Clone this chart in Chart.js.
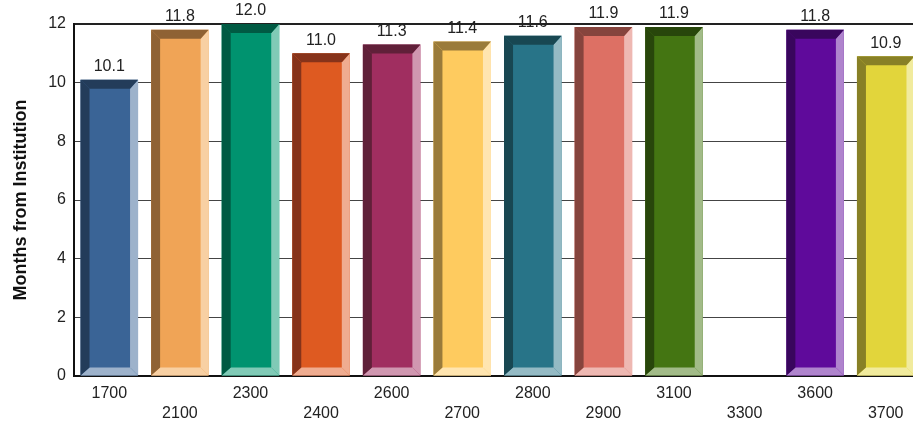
<!DOCTYPE html>
<html>
<head>
<meta charset="utf-8">
<script src="https://cdn.jsdelivr.net/npm/chart.js@4"></script>
<style>
  html, body { margin: 0; padding: 0; background: #fff; }
  #wrap { width: 913px; height: 423px; overflow: hidden; position: relative; }
  canvas { display: block; }
</style>
</head>
<body>
<div id="wrap"><canvas id="c" width="921" height="423"></canvas></div>
<script>
// data
const categories = ['1700', '2100', '2300', '2400', '2600', '2700', '2800', '2900', '3100', '3300', '3600', '3700'];
const months = [10.1, 11.8, 12.0, 11.0, 11.3, 11.4, 11.6, 11.9, 11.9, null, 11.8, 10.9];
const yTicks = [0, 2, 4, 6, 8, 10, 12];

// bar colours: face, dark bevel (top/left), light bevel (right/bottom)
const faceColors  = ['#3a6496', '#f0a456', '#00936f', '#de5a21', '#a02e60', '#fecb5f', '#287488', '#dd7064', '#447512', '#999999', '#5f0a9b', '#e2d53b'];
const darkColors  = ['#233c5a', '#8f6234', '#005a43', '#86331a', '#602039', '#9a7b3a', '#184752', '#86443d', '#28460b', '#555555', '#39065d', '#888026'];
const lightColors = ['#9db2cb', '#f8d0a3', '#80cab6', '#efac90', '#d097b0', '#ffe5b0', '#94bac4', '#eeb8b2', '#a2bb88', '#cccccc', '#af84cd', '#f1eb9d'];

const FONT = '"Liberation Sans", Arial, sans-serif';

// alternate the x labels on two rows
const xLabels = categories.map((c, i) => i % 2 === 0 ? [c, ''] : ['', c]);

const bevelPlugin = {
  id: 'bevel',
  afterDatasetsDraw(chart) {
    const ctx = chart.ctx;
    const meta = chart.getDatasetMeta(0);
    meta.data.forEach((bar, i) => {
      if (months[i] == null) return;
      const p = bar.getProps(['x', 'y', 'base', 'width'], true);
      const L = p.x - p.width / 2, R = p.x + p.width / 2;
      const T = p.y, B = p.base;
      const d = 9, l = 8;
      const poly = (pts, col) => {
        ctx.beginPath();
        ctx.moveTo(pts[0][0], pts[0][1]);
        for (let k = 1; k < pts.length; k++) ctx.lineTo(pts[k][0], pts[k][1]);
        ctx.closePath();
        ctx.fillStyle = col;
        ctx.fill();
      };
      ctx.save();
      poly([[R, T], [R, B], [R - l, B - l], [R - l, T + d]], lightColors[i]);
      poly([[L, B], [R, B], [R - l, B - l], [L + d, B - l]], lightColors[i]);
      poly([[L, T], [R, T], [R - l, T + d], [L + d, T + d]], darkColors[i]);
      poly([[L, T], [L + d, T + d], [L + d, B - l], [L, B]], darkColors[i]);
      // value label
      ctx.fillStyle = '#222';
      ctx.font = '16px ' + FONT;
      ctx.textAlign = 'center';
      ctx.textBaseline = 'bottom';
      ctx.fillText(months[i].toFixed(1), p.x, T - 5);
      ctx.restore();
    });
  }
};

new Chart(document.getElementById('c'), {
  type: 'bar',
  data: {
    labels: xLabels,
    datasets: [{
      data: months,
      backgroundColor: faceColors,
      borderWidth: 0,
      barPercentage: 0.815,
      categoryPercentage: 1.0
    }]
  },
  options: {
    responsive: false,
    animation: false,
    layout: { padding: { top: 24, left: 0, right: 0, bottom: 0 } },
    plugins: {
      legend: { display: false },
      tooltip: { enabled: false }
    },
    scales: {
      x: {
        grid: { display: false, drawTicks: false },
        border: { display: true, color: '#111', width: 2 },
        ticks: {
          color: '#222',
          font: { family: FONT, size: 16, lineHeight: 1.25 },
          padding: 8,
          maxRotation: 0,
          autoSkip: false
        },
        afterFit(scale) { scale.height = 47; }
      },
      y: {
        min: 0,
        max: 12,
        afterBuildTicks(scale) { scale.ticks = yTicks.map(v => ({ value: v })); },
        grid: {
          color: (c) => c.tick && c.tick.value === 12 ? '#222' : '#444',
          lineWidth: (c) => c.tick && c.tick.value === 12 ? 2 : 1,
          drawTicks: false
        },
        border: { display: true, color: '#111', width: 2 },
        ticks: {
          color: '#222',
          font: { family: FONT, size: 16 },
          padding: 8
        },
        title: {
          display: true,
          text: 'Months from Institution',
          color: '#111',
          font: { family: FONT, size: 18, weight: 'bold' },
          padding: { top: 10, bottom: 0 }
        },
        afterFit(scale) { scale.width = 74; }
      }
    }
  },
  plugins: [bevelPlugin]
});
</script>
</body>
</html>
